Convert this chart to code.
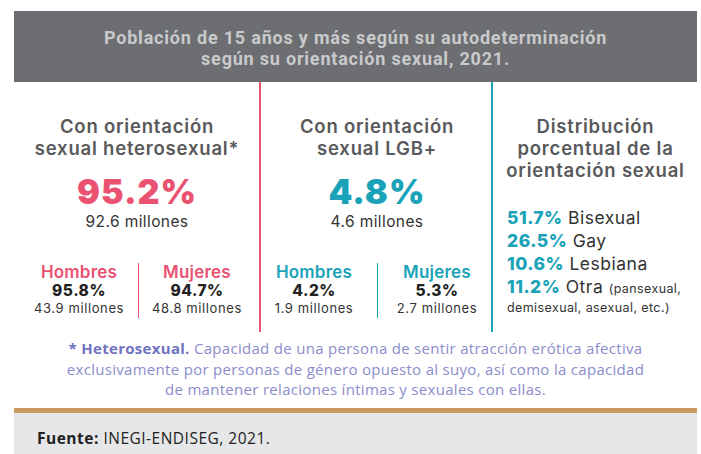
<!DOCTYPE html>
<html lang="es">
<head>
<meta charset="utf-8">
<script src="https://cdn.jsdelivr.net/npm/chart.js@4.4.0/dist/chart.umd.min.js"></script>
<style>
  html, body { margin: 0; padding: 0; background: #fff; }
  body { width: 701px; height: 454px; position: relative; overflow: hidden; font-family: "Inter", "DejaVu Sans", sans-serif; color: #58595b; }
  .abs { position: absolute; }
  .center { text-align: center; }
  #header { left: 14px; top: 11px; width: 683px; height: 71px; background: #6d6e71; color: #c9cacc;
            font-family: "Roboto", sans-serif; font-weight: 700; font-size: 18px; line-height: 21px;
            letter-spacing: 0.8px; text-align: center; padding-top: 16px; box-sizing: border-box; }
  .vline { width: 2px; }
  .head { font-size: 18.5px; font-weight: 600; line-height: 22px; color: #58595b; letter-spacing: 0.8px; }
  .big { font-size: 34px; font-weight: 900; line-height: 34px; letter-spacing: 1px; }
  .mill { font-size: 15.5px; line-height: 18px; color: #333; letter-spacing: 0.4px; }
  .sub { font-size: 17px; font-weight: 600; line-height: 18px; letter-spacing: 0.2px; }
  .subpct { font-size: 15.5px; font-weight: 800; line-height: 18px; color: #222; letter-spacing: 0.5px; }
  .submill { font-size: 13px; line-height: 16px; color: #333; letter-spacing: 0.6px; }
  .dist { font-size: 17.5px; line-height: 23px; color: #333; letter-spacing: 0.5px; }
  .dist b { color: #1aa3b8; font-weight: 800; }
  .dist small { font-size: 12.5px; letter-spacing: 0.4px; }
  #nota { left: 14px; width: 683px; top: 338px; font-family: "Open Sans", sans-serif; font-size: 15px;
          line-height: 20.5px; color: #8b8dca; text-align: center; letter-spacing: 0.3px; }
  #nota b { color: #6f72c0; }
  #tan { left: 14px; top: 408px; width: 683px; height: 5px; background: #c99a60; }
  #footer { left: 14px; top: 413px; width: 683px; height: 41px; background: #e6e7e8; }
  #fuente { left: 37px; top: 427px; font-family: "Open Sans", sans-serif; font-size: 15.5px; color: #222; letter-spacing: 0.5px; }
</style>
</head>
<body>
<div id="root"></div>
<script>
// Población de 15 años y más, orientación sexual (ENDISEG 2021)
const titulo = ['Población de 15 años y más según su autodeterminación', 'según su orientación sexual, 2021.'];

const columnas = ['Con orientación<br>sexual heterosexual*', 'Con orientación<br>sexual LGB+'];
const porcentajeTotal = ['95.2%', '4.8%'];
const millonesTotal = ['92.6 millones', '4.6 millones'];
const colores = ['#ea5271', '#1aa3b8'];

const sexos = ['Hombres', 'Mujeres'];
const porcentajeSexo = [['95.8%', '94.7%'], ['4.2%', '5.3%']];
const millonesSexo = [['43.9 millones', '48.8 millones'], ['1.9 millones', '2.7 millones']];

const distTitulo = 'Distribución<br>porcentual de la<br>orientación sexual';
const distPct = ['51.7%', '26.5%', '10.6%', '11.2%'];
const distEtiqueta = ['Bisexual', 'Gay', 'Lesbiana', 'Otra <small>(pansexual,</small>'];
const distExtra = 'demisexual, asexual, etc.)';

const nota = '<b>* Heterosexual.</b> Capacidad de una persona de sentir atracción erótica afectiva<br>exclusivamente por personas de género opuesto al suyo, así como la capacidad<br>de mantener relaciones íntimas y sexuales con ellas.';
const fuente = '<b>Fuente:</b> INEGI-ENDISEG, 2021.';

// geometría de columnas
const colX = [[14, 260], [262, 492]];
const subCentros = [[79, 197], [314, 437]];
const subDivisor = [138, 377];

let html = '';
html += `<div id="header" class="abs">${titulo.join('<br>')}</div>`;
html += `<div class="abs vline" style="left:259px;top:82px;height:250px;background:${colores[0]}"></div>`;
html += `<div class="abs vline" style="left:491px;top:82px;height:250px;background:${colores[1]}"></div>`;

columnas.forEach((c, i) => {
    const left = colX[i][0], w = colX[i][1] - colX[i][0];
    html += `<div class="abs center head" style="left:${left}px;width:${w}px;top:115px">${c}</div>`;
    html += `<div class="abs center big" style="left:${left}px;width:${w}px;top:175px;color:${colores[i]}">${porcentajeTotal[i]}</div>`;
    html += `<div class="abs center mill" style="left:${left}px;width:${w}px;top:213px">${millonesTotal[i]}</div>`;
    sexos.forEach((s, j) => {
        const cx = subCentros[i][j];
        html += `<div class="abs center sub" style="left:${cx - 60}px;width:120px;top:263px;color:${colores[i]}">${s}</div>`;
        html += `<div class="abs center subpct" style="left:${cx - 60}px;width:120px;top:281.5px">${porcentajeSexo[i][j]}</div>`;
        html += `<div class="abs center submill" style="left:${cx - 60}px;width:120px;top:300px">${millonesSexo[i][j]}</div>`;
    });
    html += `<div class="abs" style="left:${subDivisor[i]}px;top:263px;width:1px;height:55px;background:${colores[i]}"></div>`;
});

html += `<div class="abs center head" style="left:494px;width:203px;top:115px">${distTitulo}</div>`;
let lista = distPct.map((p, k) => `<b>${p}</b> ${distEtiqueta[k]}`).join('<br>');
html += `<div class="abs dist" style="left:507px;top:206px">${lista}<br><small style="position:relative;top:-6px">${distExtra}</small></div>`;

html += `<div id="nota" class="abs">${nota}</div>`;
html += `<div id="tan" class="abs"></div><div id="footer" class="abs"></div>`;
html += `<div id="fuente" class="abs">${fuente}</div>`;

document.getElementById('root').innerHTML = html;
</script>
</body>
</html>
